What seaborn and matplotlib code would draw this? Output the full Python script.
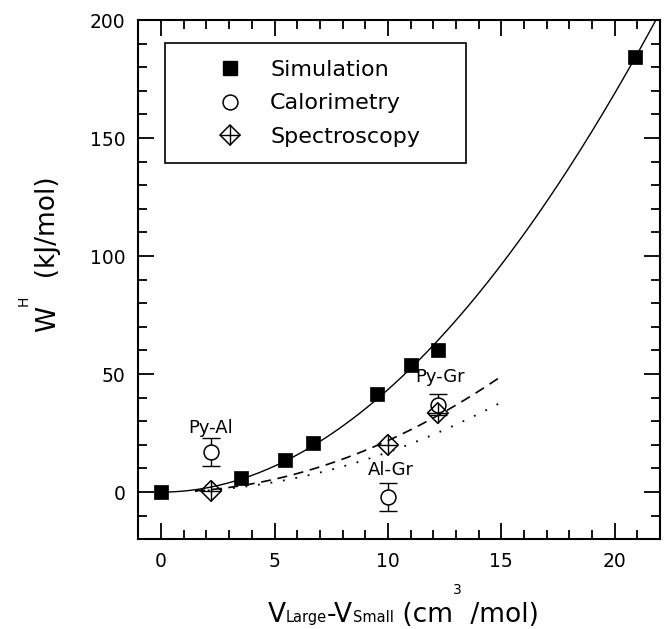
import numpy as np
import pandas as pd
import matplotlib
matplotlib.use("Agg")
import matplotlib.pyplot as plt
import seaborn as sns
from matplotlib.lines import Line2D
from matplotlib.legend_handler import HandlerTuple
from matplotlib.ticker import MultipleLocator

# ---------------- data ----------------
sim_x = [0.0, 3.5, 5.45, 6.7, 9.5, 11.0, 12.2, 20.9]
sim_y = [0.0, 6.0, 13.6, 20.8, 41.6, 54.0, 60.0, 184.3]

cal_x = [2.2, 10.0, 12.2]
cal_y = [17.0, -2.0, 37.0]
cal_err = [6.0, 6.0, 4.5]

spec_x = [2.2, 10.0, 12.2]
spec_y = [0.5, 20.0, 33.5]

pair_labels = ["Py-Al", "Al-Gr", "Py-Gr"]
pair_label_x = [2.2, 10.15, 12.3]
pair_label_y = [27.2, 9.2, 48.9]

# model curves (coefficients of c * x^2)
dashed_coef = 0.218
dotted_coef = 0.169
model_x_range = (1.5, 15.0)

legend_labels = ["Simulation", "Calorimetry", "Spectroscopy"]

# ---------------- style ----------------
sns.set_style("ticks")
plt.rcParams["font.family"] = ["DejaVu Sans"]
plt.rcParams["axes.linewidth"] = 1.5
plt.rcParams["text.color"] = "black"
plt.rcParams["axes.labelcolor"] = "black"
plt.rcParams["xtick.color"] = "black"
plt.rcParams["ytick.color"] = "black"
plt.rcParams["axes.edgecolor"] = "black"

fig = plt.figure(figsize=(6.67, 6.29), dpi=100)
ax = fig.add_axes([0.2076, 0.1426, 0.7819, 0.8256])

# solid curve: least-squares fit a x^2 + b x^3 through simulation points
sx = np.array(sim_x); sy = np.array(sim_y)
A = np.vstack([sx**2, sx**3]).T
coef, *_ = np.linalg.lstsq(A, sy, rcond=None)
xs = np.linspace(0, 22, 300)
solid_df = pd.DataFrame({"x": xs, "y": coef[0]*xs**2 + coef[1]*xs**3})
sns.lineplot(data=solid_df, x="x", y="y", ax=ax, color="black", lw=1.0,
             estimator=None, sort=False)

xm = np.linspace(model_x_range[0], model_x_range[1], 200)
dash_df = pd.DataFrame({"x": xm, "y": dashed_coef*xm**2})
dot_df = pd.DataFrame({"x": xm, "y": dotted_coef*xm**2})
sns.lineplot(data=dash_df, x="x", y="y", ax=ax, color="black", lw=1.2,
             estimator=None, sort=False, linestyle=(0, (6, 4)))
sns.lineplot(data=dot_df, x="x", y="y", ax=ax, color="black", lw=1.3,
             estimator=None, sort=False, linestyle=(0, (1, 6)))

# error bars for calorimetry
ax.errorbar(cal_x, cal_y, yerr=cal_err, fmt="none", ecolor="black",
            elinewidth=1.0, capsize=6.5, capthick=1.0, zorder=3)

sns.scatterplot(x=sim_x, y=sim_y, ax=ax, marker="s", s=115, color="black",
                edgecolor="black", linewidth=0.5, zorder=5, legend=False)
sns.scatterplot(x=cal_x, y=cal_y, ax=ax, marker="o", s=115, facecolor="white",
                edgecolor="black", linewidth=1.1, zorder=4, legend=False)
sns.scatterplot(x=spec_x, y=spec_y, ax=ax, marker="D", s=110, facecolor="none",
                edgecolor="black", linewidth=1.1, zorder=6, legend=False)
sns.scatterplot(x=spec_x, y=spec_y, ax=ax, marker="+", s=225, color="black",
                linewidth=1.0, zorder=6, legend=False)

for t, x, y in zip(pair_labels, pair_label_x, pair_label_y):
    ax.text(x, y, t, ha="center", va="center", fontsize=13, zorder=7)

# axes
ax.set_xlim(-1, 22)
ax.set_ylim(-20, 200)
ax.xaxis.set_major_locator(MultipleLocator(5))
ax.xaxis.set_minor_locator(MultipleLocator(1))
ax.yaxis.set_major_locator(MultipleLocator(50))
ax.yaxis.set_minor_locator(MultipleLocator(10))
ax.set_yticks([0, 50, 100, 150, 200])
ax.tick_params(which="both", direction="in", top=True, right=True, width=1.3,
               labelsize=13.5, pad=9.5, colors="black")
ax.tick_params(which="major", length=11.5)
ax.tick_params(which="minor", length=6.5)
ax.set_xlabel("")
ax.set_ylabel("")
for sp in ax.spines.values():
    sp.set_visible(True)
    sp.set_color("black")

# legend
h_sim = Line2D([], [], marker="s", color="black", ls="none", ms=10.7)
h_cal = Line2D([], [], marker="o", mfc="white", mec="black", ls="none", ms=10.7, mew=1.1)
h_sp1 = Line2D([], [], marker="D", mfc="none", mec="black", ls="none", ms=10.5, mew=1.1)
h_sp2 = Line2D([], [], marker="+", color="black", ls="none", ms=15, mew=1.0)
leg = ax.legend([h_sim, h_cal, (h_sp1, h_sp2)], legend_labels,
                handler_map={tuple: HandlerTuple(ndivide=1, pad=0)},
                loc="upper left", bbox_to_anchor=(0.050, 0.5, 0.578, 0.455),
                mode="expand", borderaxespad=0, fontsize=16, frameon=True,
                fancybox=False, edgecolor="black", framealpha=1,
                borderpad=0.75, handlelength=4.4, handletextpad=-0.4,
                labelspacing=0.6, numpoints=1)
leg.get_frame().set_linewidth(1.2)

# composite axis labels
def chain(pieces, x0, y0, rotated=False):
    prev = None
    for txt, size, dy in pieces:
        if prev is None:
            if rotated:
                prev = fig.text(x0, y0, txt, fontsize=size, ha="left", va="baseline",
                                rotation=90, rotation_mode="anchor")
            else:
                prev = fig.text(x0, y0, txt, fontsize=size, ha="left", va="baseline")
        else:
            if rotated:
                prev = ax.annotate(txt, xy=(x0, 1), xycoords=("figure fraction", prev),
                                   xytext=(-dy, 0), textcoords="offset points",
                                   ha="left", va="baseline", rotation=90,
                                   rotation_mode="anchor", fontsize=size,
                                   annotation_clip=False)
            else:
                prev = ax.annotate(txt, xy=(1, y0), xycoords=(prev, "figure fraction"),
                                   xytext=(0, dy), textcoords="offset points",
                                   ha="left", va="baseline", fontsize=size,
                                   annotation_clip=False)

chain([("V", 19, 0), ("Large", 10.5, 0), ("-V", 19, 0), ("Small", 10.5, 0),
       (" (cm", 19, 0), ("3", 10, 20), (" /mol)", 19, 0)],
      0.4018, 0.0111)
chain([("W", 19, 0), ("H", 10, 20), ("  (kJ/mol)", 19, 0)],
      0.0825, 0.4722, rotated=True)

fig.savefig("out.png", dpi=100)
